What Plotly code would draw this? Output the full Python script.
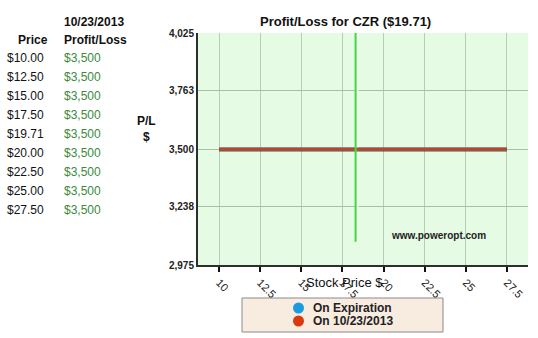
import plotly.graph_objects as go

# ---- data ----
ticker = "CZR"
spot = 19.71
date_label = "10/23/2013"
prices = [10.00, 12.50, 15.00, 17.50, 19.71, 20.00, 22.50, 25.00, 27.50]
pl_today = [3500, 3500, 3500, 3500, 3500, 3500, 3500, 3500, 3500]
pl_expiry = [3500, 3500, 3500, 3500, 3500, 3500, 3500, 3500, 3500]
x_ticks = [10, 12.5, 15, 17.5, 20, 22.5, 25, 27.5]
y_ticks = [2975, 3238, 3500, 3763, 4025]
y_tick_text = ["2,975", "3,238", "3,500", "3,763", "4,025"]
# current-price marker as drawn in the picture
spot_line_x = [18.3, 18.3]
spot_line_y = [3080, 4025]
legend_names = ["On Expiration", "On " + date_label]
legend_colors = ["#1a9be0", "#d83a10"]

W, H = 538, 338
L, R, T, B = 198, 528, 33, 265

fig = go.Figure()

# expiration (hidden under today line)
fig.add_trace(go.Scatter(x=prices, y=pl_expiry, mode="lines", name=legend_names[0],
                         line=dict(color=legend_colors[0], width=3), showlegend=False, hoverinfo="skip"))
# faint white glow beside the spot line
fig.add_trace(go.Scatter(x=[x + 0.12 for x in spot_line_x], y=spot_line_y, mode="lines",
                         line=dict(color="rgba(255,255,255,0.8)", width=2), showlegend=False, hoverinfo="skip"))
# shadow of today line
fig.add_trace(go.Scatter(x=prices, y=[v - 6 for v in pl_today], mode="lines",
                         line=dict(color="rgba(60,40,30,0.55)", width=3), showlegend=False, hoverinfo="skip"))
fig.add_trace(go.Scatter(x=prices, y=pl_today, mode="lines", name=legend_names[1],
                         line=dict(color="#b8462a", width=3), showlegend=False))
# spot price line
fig.add_trace(go.Scatter(x=spot_line_x, y=spot_line_y, mode="lines",
                         line=dict(color="#3cdc3c", width=2), showlegend=False, hoverinfo="skip"))

pw, ph = R - L, B - T
def px(x):
    return (x - L) / pw
def py(y):
    return (B - y) / ph

shapes = [dict(type="rect", xref="paper", yref="paper",
               x0=px(242), x1=px(443), y0=py(298), y1=py(332),
               fillcolor="#f8ebe0", line=dict(color="#8a8a8a", width=1), layer="below")]

annotations = []
# legend (manual)
for i, (nm, col) in enumerate(zip(legend_names, legend_colors)):
    yy = 308 + i * 13
    shapes.append(dict(type="circle", xref="paper", yref="paper",
                       x0=px(293), x1=px(304), y0=py(yy + 5.5), y1=py(yy - 5.5),
                       fillcolor=col, line=dict(width=0)))
    annotations.append(dict(text="<b>" + nm + "</b>", x=px(311), y=py(yy), xref="paper", yref="paper",
                            xanchor="left", yanchor="middle", showarrow=False,
                            font=dict(family="Arial", size=12, color="#222")))
# table
annotations.append(dict(text="<b>Price</b>", x=px(50), y=py(40), xref="paper", yref="paper",
                        xanchor="right", yanchor="middle", showarrow=False,
                        font=dict(family="Arial", size=12, color="#111")))
annotations.append(dict(text="<b>" + date_label + "</b>", x=px(62), y=py(22), xref="paper", yref="paper",
                        xanchor="left", yanchor="middle", showarrow=False,
                        font=dict(family="Arial", size=12, color="#111")))
annotations.append(dict(text="<b>Profit/Loss</b>", x=px(62), y=py(40), xref="paper", yref="paper",
                        xanchor="left", yanchor="middle", showarrow=False,
                        font=dict(family="Arial", size=12, color="#111")))
for i, (p, v) in enumerate(zip(prices, pl_today)):
    yy = 58 + i * 19
    annotations.append(dict(text=f"${p:,.2f}", x=px(5), y=py(yy), xref="paper", yref="paper",
                            xanchor="left", yanchor="middle", showarrow=False,
                            font=dict(family="Arial", size=12, color="#111")))
    annotations.append(dict(text=f"${v:,.0f}", x=px(62), y=py(yy), xref="paper", yref="paper",
                            xanchor="left", yanchor="middle", showarrow=False,
                            font=dict(family="Arial", size=12, color="#3b8a3b")))
# title
annotations.append(dict(text=f"<b>Profit/Loss for {ticker} (${spot})</b>", x=px(345), y=py(21),
                        xref="paper", yref="paper", xanchor="center", yanchor="middle", showarrow=False,
                        font=dict(family="Arial", size=13, color="#111")))
# y title
annotations.append(dict(text="<b>P/L<br>$</b>", x=px(146), y=py(129), xref="paper", yref="paper",
                        xanchor="center", yanchor="middle", showarrow=False,
                        font=dict(family="Arial", size=12, color="#111")))
# x title
annotations.append(dict(text="Stock Price $", x=px(344), y=py(282), xref="paper", yref="paper",
                        xanchor="center", yanchor="middle", showarrow=False,
                        font=dict(family="Arial", size=13, color="#111")))
# watermark
annotations.append(dict(text="<b>www.poweropt.com</b>", x=px(438), y=py(235), xref="paper", yref="paper",
                        xanchor="center", yanchor="middle", showarrow=False,
                        font=dict(family="Arial", size=10, color="#222")))

fig.update_layout(
    width=W, height=H,
    margin=dict(l=L, r=W - R, t=T, b=H - B, pad=0, autoexpand=False),
    paper_bgcolor="white", plot_bgcolor="#e6fbe3",
    shapes=shapes, annotations=annotations,
    showlegend=False,
    font=dict(family="Arial"),
)
fig.update_xaxes(range=[8.72, 28.78], tickvals=x_ticks, ticktext=[f"{t:g}" for t in x_ticks],
                 tickangle=45, ticks="outside", ticklen=5, tickwidth=2, tickcolor="#111",
                 showgrid=True, gridcolor="#b5cdb3", gridwidth=1, automargin=False,
                 showline=True, linecolor="#2a302a", linewidth=2, zeroline=False,
                 tickfont=dict(family="Arial", size=11, color="#222"))
fig.update_yaxes(range=[2975, 4025], tickvals=y_ticks, ticktext=["<b>" + t + "</b>" for t in y_tick_text],
                 ticks="", showgrid=True, gridcolor="#a9bfa7", gridwidth=1, automargin=False,
                 showline=True, linecolor="#2a302a", linewidth=2, zeroline=False,
                 tickfont=dict(family="Arial", size=10, color="#222"))

fig.write_html("out.html")
